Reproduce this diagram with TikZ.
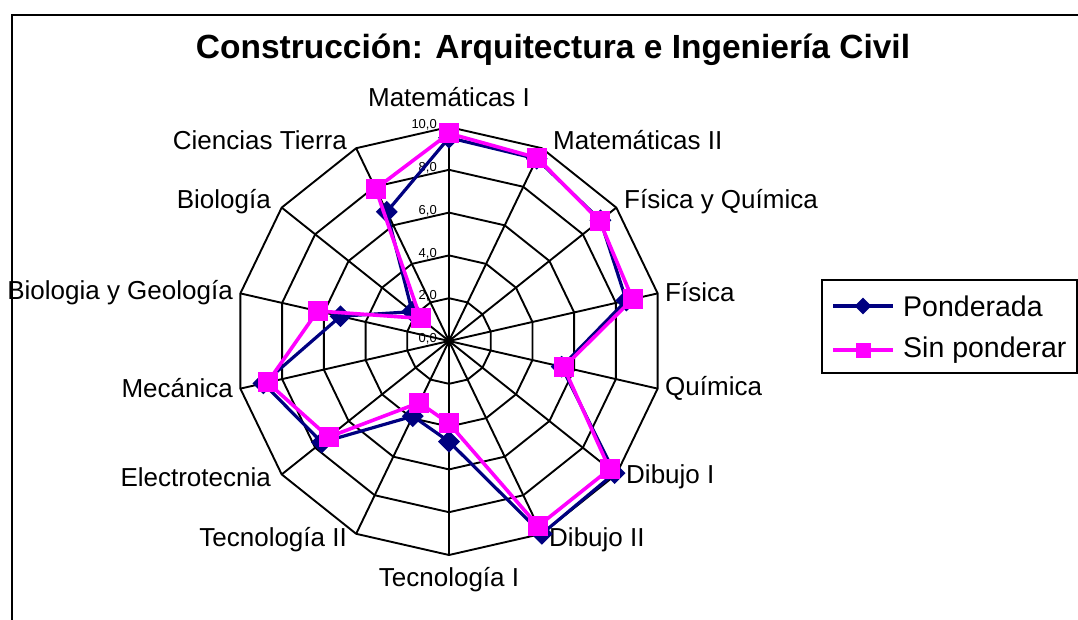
\documentclass[tikz,border=0pt]{standalone}
\usepackage{fontspec}
\setmainfont{Liberation Sans}
\usetikzlibrary{shapes.geometric}
\definecolor{pondcol}{HTML}{000080}
\definecolor{sincol}{HTML}{FF00FF}
\begin{document}
\begin{tikzpicture}[x=1pt,y=-1pt,
  gridline/.style={black,line width=1.9pt},
  axlabel/.style={inner sep=0pt,font=\fontsize{26}{29}\selectfont},
  ticklabel/.style={inner sep=0pt,anchor=east,font=\fontsize{13}{14}\selectfont},
  pondline/.style={pondcol,line width=3.2pt,line join=round},
  sinline/.style={sincol,line width=3.6pt,line join=round},
  pondmark/.style={diamond,fill=pondcol,minimum size=22pt,inner sep=0pt},
  sinmark/.style={rectangle,fill=sincol,minimum size=20pt,inner sep=0pt},
  frame/.style={black,line width=1.9pt}]
\useasboundingbox (0,0) rectangle (1078,619);
\def\cx{449}\def\cy{341}\def\U{21.4}
% outer frame
\draw[frame] (12,625) -- (12,15) -- (1085,15);
% title
\node[inner sep=0pt,font=\fontsize{33.5}{38}\selectfont\bfseries] (title) at (553,50) {Construcción: Arquitectura e Ingeniería Civil};
% grid
\coordinate (C) at (\cx,\cy);
\foreach \v in {2,4,6,8,10}{
  \draw[gridline] plot[samples at={0,...,13}] ({\cx+\v*\U*cos(90-\x*360/14)},{\cy-\v*\U*sin(90-\x*360/14)}) -- cycle;
}
\foreach \i in {0,...,13}{
  \coordinate (ax\i) at ({\cx+10*\U*cos(90-\i*360/14)},{\cy-10*\U*sin(90-\i*360/14)});
  \draw[gridline] (C) -- (ax\i);
}
% tick labels
\foreach \v/\t in {0/{0,0},2/{2,0},4/{4,0},6/{6,0},8/{8,0},10/{10,0}}{
  \node[ticklabel] (tick\v) at (437,{\cy-\v*\U-2}) {\t};
}
% axis labels
\node[axlabel] (l0) at (449,97) {Matemáticas I};
\node[axlabel,anchor=west] (l1) at (553,140) {Matemáticas II};
\node[axlabel,anchor=west] (l2) at (624,202) {Física y Química};
\node[axlabel,anchor=west] (l3) at (665,292) {Física};
\node[axlabel,anchor=west] (l4) at (665,388) {Química};
\node[axlabel,anchor=west] (l5) at (626,477) {Dibujo I};
\node[axlabel,anchor=west] (l6) at (549,540) {Dibujo II};
\node[axlabel] (l7) at (449,580) {Tecnología I};
\node[axlabel,anchor=east] (l8) at (347,540) {Tecnología II};
\node[axlabel,anchor=east] (l9) at (271,477) {Electrotecnia};
\node[axlabel,anchor=east] (l10) at (233,388) {Mecánica};
\node[axlabel,anchor=east] (l11) at (233,293) {Biologia y Geología};
\node[axlabel,anchor=east] (l12) at (271,202) {Biología};
\node[axlabel,anchor=east] (l13) at (347,140) {Ciencias Tierra};
% data: Ponderada
\foreach \v [count=\i from 0] in {9.5,9.45,9.05,8.5,5.4,9.9,10.0,4.7,3.9,7.6,8.9,5.2,2.2,6.7}{
  \coordinate (p\i) at ({\cx+\v*\U*cos(90-\i*360/14)},{\cy-\v*\U*sin(90-\i*360/14)});
}
\foreach \v [count=\i from 0] in {9.7,9.5,9.0,8.8,5.5,9.6,9.6,3.85,3.2,7.2,8.7,6.3,1.7,7.9}{
  \coordinate (s\i) at ({\cx+\v*\U*cos(90-\i*360/14)},{\cy-\v*\U*sin(90-\i*360/14)});
}
\draw[pondline] (p0) \foreach \i in {1,...,13}{ -- (p\i)} -- cycle;
\foreach \i in {0,...,13}{ \node[pondmark] (pm\i) at (p\i) {}; }
\draw[sinline] (s0) \foreach \i in {1,...,13}{ -- (s\i)} -- cycle;
\foreach \i in {0,...,13}{ \node[sinmark] (sm\i) at (s\i) {}; }
% legend
\node[draw=black,line width=1.9pt,minimum width=255pt,minimum height=93pt,inner sep=0pt] (legend) at (949.5,326.5) {};
\coordinate (lpa) at (833,306); \coordinate (lpb) at (893,306);
\coordinate (lsa) at (833,350); \coordinate (lsb) at (893,350);
\draw[pondline] (lpa) -- (lpb);
\node[pondmark,minimum size=17pt] (lpm) at (863,306) {};
\draw[sinline] (lsa) -- (lsb);
\node[sinmark,minimum size=15pt] (lsm) at (863,350) {};
\node[inner sep=0pt,anchor=west,font=\fontsize{28.5}{32}\selectfont] (lt1) at (903,306) {Ponderada};
\node[inner sep=0pt,anchor=west,font=\fontsize{28.5}{32}\selectfont] (lt2) at (903,350) {Sin ponderar};
\end{tikzpicture}
\end{document}
